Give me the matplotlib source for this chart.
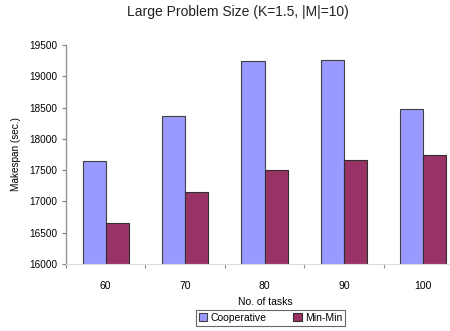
import matplotlib
matplotlib.use("Agg")
import matplotlib.pyplot as plt
import numpy as np

categories = ["60", "70", "80", "90", "100"]
cooperative = [17650, 18360, 19240, 19255, 18470]
minmin = [16650, 17145, 17500, 17670, 17750]
yticks = [16000, 16500, 17000, 17500, 18000, 18500, 19000, 19500]

plt.rcParams['font.family'] = ['Liberation Sans', 'DejaVu Sans']

fig = plt.figure(figsize=(4.5, 3.31), dpi=100)
ax = fig.add_axes([66/450, 67/331, (463-66)/450, (264-45)/331])

x = np.arange(len(categories))
w = 0.29
ax.bar(x - w/2, cooperative, w, color='#9999FF', edgecolor='#404040', linewidth=0.8, label='Cooperative')
ax.bar(x + w/2, minmin, w, color='#993366', edgecolor='#303030', linewidth=0.8, label='Min-Min')

ax.set_xlim(-0.5, len(categories) - 0.5)
ax.set_ylim(16000, 19500)
ax.set_yticks(yticks)
ax.set_yticklabels([str(v) for v in yticks], fontsize=7.2)
ax.set_xticks(x)
ax.set_xticklabels(categories, fontsize=7.5)
ax.set_xticks(np.arange(len(categories)) - 0.5, minor=True)
ax.tick_params(axis='x', which='major', length=0, pad=12)
ax.tick_params(axis='x', which='minor', length=3, color='#909090', width=0.8)
ax.tick_params(axis='y', length=3, color='#808080', width=0.8, pad=3)

for s in ['top', 'right']:
    ax.spines[s].set_visible(False)
ax.spines['left'].set_color('#909090')
ax.spines['left'].set_linewidth(1.0)
ax.spines['bottom'].set_color('#dcdcdc')
ax.spines['bottom'].set_linewidth(0.8)

fig.text(238/450, 1 - 12/331, "Large Problem Size (K=1.5, |M|=10)", ha='center', va='center',
         fontsize=10, color='#222222')
fig.text(16/450, 1 - 154/331, "Makespan (sec.)", ha='center', va='center', rotation=90, fontsize=7.2)
fig.text(265/450, 1 - 302/331, "No. of tasks", ha='center', va='center', fontsize=7.5)

leg = fig.legend(loc='center', bbox_to_anchor=(270.5/450, 1 - 318/331), ncol=2, fontsize=7.5,
                 frameon=True, fancybox=False, edgecolor='#404040', handlelength=0.8, handleheight=0.8,
                 handletextpad=0.3, columnspacing=2.6, borderpad=0.3)
leg.get_frame().set_linewidth(0.8)

fig.savefig("out.png", dpi=100)
